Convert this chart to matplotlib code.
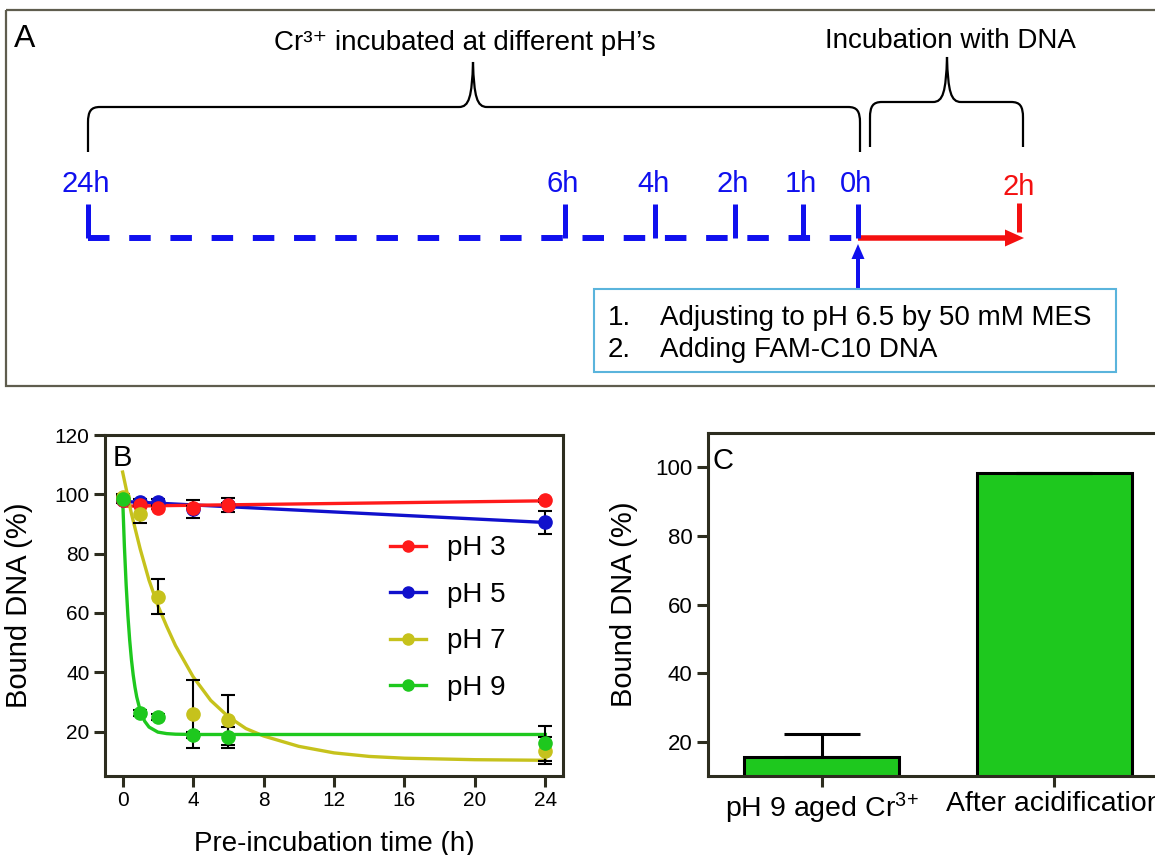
import matplotlib.pyplot as plt
import numpy as np
from matplotlib.path import Path
from matplotlib.patches import PathPatch, Rectangle
from matplotlib.lines import Line2D

plt.rcParams['font.family'] = ['Liberation Sans', 'DejaVu Sans']
plt.rcParams['mathtext.fontset'] = 'custom'
plt.rcParams['mathtext.rm'] = 'Liberation Sans'
plt.rcParams['mathtext.it'] = 'Liberation Sans:italic'
plt.rcParams['mathtext.bf'] = 'Liberation Sans:bold'

# ---- panel A: scheme (positions in figure pixels) ----
tl_labels = ['24h', '6h', '4h', '2h', '1h', '0h']
tl_x = [88, 565, 655, 735, 803, 858]
red_label = '2h'
red_x = 1019
box_lines = ['Adjusting to pH 6.5 by 50 mM MES', 'Adding FAM-C10 DNA']

# ---- panel B: bound DNA vs pre-incubation time ----
time_h = [0, 1, 2, 4, 6, 24]
ph3 = [98, 96.5, 95.5, 95.5, 96.5, 98]
ph3_err = [0.5, 0.5, 0.5, 0.5, 0.5, 0.5]
ph5 = [98, 97.5, 97.5, 95, 96.5, 90.5]
ph5_err = [1, 1, 1, 3, 2.3, 3.8]
ph7 = [99, 93.5, 65.5, 26, 24, 13.5]
ph7_err = [1, 3.3, 5.8, 11.5, 8.4, 4.5]
ph9 = [98.5, 26.4, 24.9, 18.7, 18, 16]
ph9_err = [1, 1, 1, 1, 3.4, 6]

# fitted curves
fit3_t = [0, 24]
fit3_y = [96.0, 97.8]
fit5_t = [0, 24]
fit5_y = [97.6, 90.5]
fit7_t = [0, 0.5, 1, 1.5, 2, 2.5, 3, 4, 5, 6, 7, 8, 10, 12, 14, 16, 20, 24]
fit7_y = [107.5, 93.5, 81.5, 71, 62.5, 55.5, 49, 38.5, 30.5, 25, 21, 18.5, 15,
          12.8, 11.6, 11, 10.5, 10.3]
fit9_t = [0, 0.1, 0.2, 0.3, 0.4, 0.5, 0.6, 0.7, 0.8, 1.0, 1.25, 1.5, 2, 2.5, 3, 4, 24]
fit9_y = [99, 82.6, 69.5, 59.1, 50.9, 44.3, 39.1, 35, 31.7, 27, 23.5, 21.5, 19.8,
          19.3, 19.1, 19.0, 19.0]

# ---- panel C ----
c_labels = [r'pH 9 aged Cr$^{3\!+}$', 'After acidification']
c_vals = [15.6, 98.2]
c_err_up = [6.6, 0]

blue_tl = '#1010ee'
red_tl = '#f41010'
c3, c5, c7, c9 = '#ff1a1a', '#1010cc', '#c6c21c', '#1ec81e'
spine_c = '#2d2d1f'

fig = plt.figure(figsize=(11.55, 8.55), dpi=100)

# panel A drawn in pixel coordinates
axA = fig.add_axes([0, 0, 1, 1])
axA.set_xlim(0, 1155)
axA.set_ylim(855, 0)
axA.axis('off')

axA.add_patch(Rectangle((6, 10), 1250, 376, fill=False, ec='#5f5d4e', lw=1.6))
axA.text(14, 47, 'A', fontsize=23, va='baseline', ha='left')
axA.text(465, 50, 'Cr³⁺ incubated at different pH’s', fontsize=20,
         va='baseline', ha='center')
axA.text(950, 48, 'Incubation with DNA', fontsize=20, va='baseline', ha='center')


def brace(x0, x1, xp, yb, yt, ye):
    verts = [(x0, ye), (x0, yb + 16), (x0, yb + 4), (x0 + 3, yb), (x0 + 12, yb),
             (xp - 14, yb), (xp - 4, yb), (xp - 1, yb - 10), (xp, yt),
             (xp + 1, yb - 10), (xp + 4, yb), (xp + 14, yb),
             (x1 - 12, yb), (x1 - 3, yb), (x1, yb + 4), (x1, yb + 16), (x1, ye)]
    codes = [Path.MOVETO, Path.LINETO, Path.CURVE4, Path.CURVE4, Path.CURVE4,
             Path.LINETO, Path.CURVE4, Path.CURVE4, Path.CURVE4,
             Path.CURVE4, Path.CURVE4, Path.CURVE4,
             Path.LINETO, Path.CURVE4, Path.CURVE4, Path.CURVE4, Path.LINETO]
    axA.add_patch(PathPatch(Path(verts, codes), fill=False, ec='black', lw=1.6))


brace(88, 860, 473, 107, 62, 152)
brace(870, 1023, 947, 102, 57, 147)

# dashed timeline
axA.plot([88, 858], [238, 238], color=blue_tl, lw=4.3,
         linestyle=(0, (3.6, 3.3)), dash_capstyle='butt')
for lab, x in zip(tl_labels, tl_x):
    axA.plot([x, x], [204, 238], color=blue_tl, lw=3.6, solid_capstyle='butt')
    axA.text(x - 2, 192, lab, color=blue_tl, fontsize=21, ha='center', va='baseline')

axA.arrow(858, 238, 166, 0, width=5.5, head_width=17, head_length=19,
          length_includes_head=True, color=red_tl, lw=0)
axA.plot([red_x, red_x], [203, 232], color=red_tl, lw=3.6, solid_capstyle='butt')
axA.text(red_x, 195, red_label, color=red_tl, fontsize=21, ha='center', va='baseline')

axA.arrow(858, 290, 0, -46, width=4, head_width=13, head_length=15,
          length_includes_head=True, color=blue_tl, lw=0)

axA.add_patch(Rectangle((594, 289), 522, 83, fill=False, ec='#5ab4dc', lw=1.5))
for i, line in enumerate(box_lines):
    y = 325 + i * 32
    axA.text(608, y, f'{i + 1}.', fontsize=20, va='baseline')
    axA.text(660, y, line, fontsize=20, va='baseline')

# panel B
axB = fig.add_axes([105 / 1155, 1 - 776 / 855, 458 / 1155, 341 / 855])
axB.plot(fit5_t, fit5_y, color=c5, lw=2.4, zorder=2)
axB.plot(fit3_t, fit3_y, color=c3, lw=2.4, zorder=2)
axB.plot(fit7_t, fit7_y, color=c7, lw=2.4, zorder=2)
axB.plot(fit9_t, fit9_y, color=c9, lw=2.4, zorder=2)

series = [(ph5, ph5_err, c5, 4), (ph3, ph3_err, c3, 5), (ph7, ph7_err, c7, 6), (ph9, ph9_err, c9, 7)]
for vals, err, col, z in series:
    axB.errorbar(time_h, vals, yerr=err, fmt='none', ecolor='black',
                 elinewidth=1.5, capsize=5, capthick=1.5, zorder=3)
    axB.plot(time_h, vals, 'o', color=col, ms=9.5, zorder=z)

axB.set_xlim(-1, 25)
axB.set_ylim(5, 120)
axB.set_xticks([0, 4, 8, 12, 16, 20, 24])
axB.set_yticks([20, 40, 60, 80, 100, 120])
axB.set_xlabel('Pre-incubation time (h)', fontsize=20)
axB.set_ylabel('Bound DNA (%)', fontsize=21)
axB.xaxis.set_label_coords(0.5, -0.16)
axB.yaxis.set_label_coords(-0.157, 0.5)
axB.text(0.017, 0.975, 'B', transform=axB.transAxes, fontsize=21, va='top', ha='left')

handles = [Line2D([], [], color=c, marker='o', ms=8, lw=2.4) for c in (c3, c5, c7, c9)]
axB.legend(handles, ['pH 3', 'pH 5', 'pH 7', 'pH 9'], loc='upper left',
           bbox_to_anchor=(0.622, 0.706), frameon=False, fontsize=20,
           handlelength=1.3, handletextpad=0.75, labelspacing=0.74,
           borderpad=0, borderaxespad=0)

# panel C
axC = fig.add_axes([708 / 1155, 1 - 776 / 855, 460 / 1155, 343 / 855])
axC.bar([0, 1], c_vals, width=0.667, color=c9, edgecolor='black', lw=2.2, zorder=2)
axC.errorbar([0, 1], c_vals, yerr=[[0, 0], c_err_up], fmt='none', ecolor='black',
             elinewidth=2.2, capsize=27.5, capthick=2.2, zorder=3)
axC.set_xlim(-0.49, 1.49)
axC.set_ylim(10, 110)
axC.set_yticks([20, 40, 60, 80, 100])
axC.set_xticks([0, 1], c_labels)
axC.set_ylabel('Bound DNA (%)', fontsize=21)
axC.yaxis.set_label_coords(-0.152, 0.5)
axC.text(0.009, 0.96, 'C', transform=axC.transAxes, fontsize=21, va='top', ha='left')

for ax, ls in ((axB, 15), (axC, 16)):
    for s in ax.spines.values():
        s.set_color(spine_c)
        s.set_linewidth(2.2)
    ax.tick_params(direction='out', length=8, width=2.2, color=spine_c,
                   labelsize=ls, pad=3, top=False, right=False)
axC.tick_params(axis='x', labelsize=20.5)

fig.savefig('out.png', dpi=100)
